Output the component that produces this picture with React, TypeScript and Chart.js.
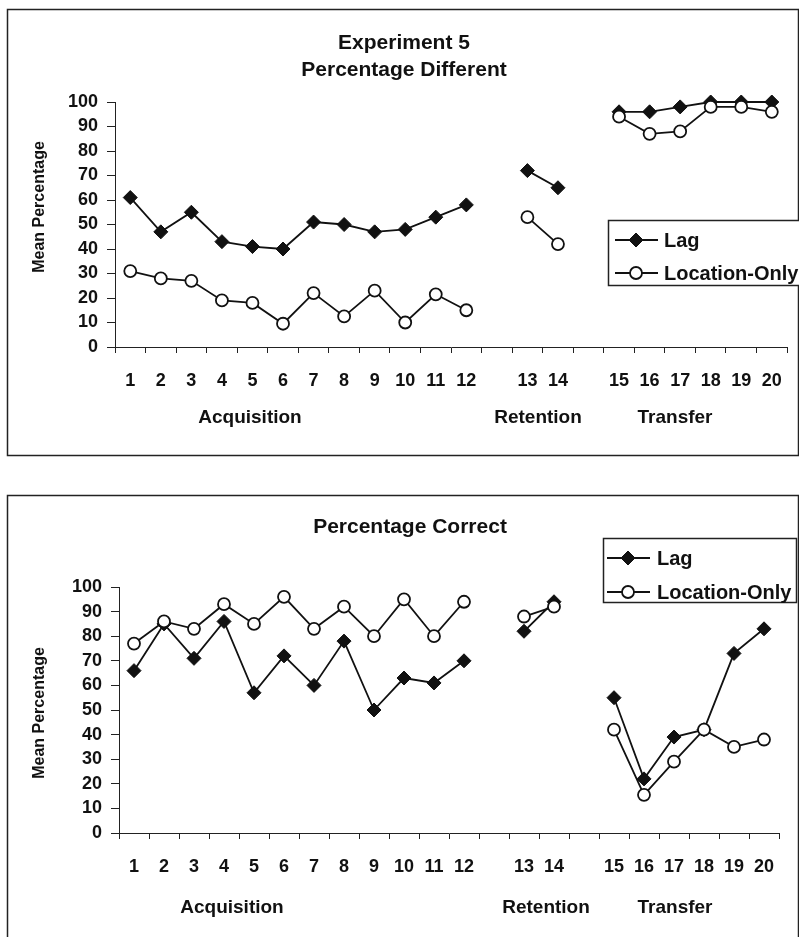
import React, { useEffect, useRef } from 'react';
import { Chart, registerables } from 'chart.js';

Chart.register(...registerables);

const FONT = "'Liberation Sans', Arial, Helvetica, sans-serif";
Chart.defaults.font.family = FONT;

// x categories (empty strings are the gaps between phases)
const categories = ['1', '2', '3', '4', '5', '6', '7', '8', '9', '10', '11', '12', '', '13', '14', '', '15', '16', '17', '18', '19', '20'];
const seriesNames = ['Lag', 'Location-Only'];
const phaseLabels = ['Acquisition', 'Retention', 'Transfer'];
const yAxisTitle = 'Mean Percentage';
const topTitle = ['Experiment 5', 'Percentage Different'];
const bottomTitle = ['Percentage Correct'];

// Percentage Different
const diffLag = [61, 47, 55, 43, 41, 40, 51, 50, 47, 48, 53, 58, null, 72, 65, null, 96, 96, 98, 100, 100, 100];
const diffLoc = [31, 28, 27, 19, 18, 9.5, 22, 12.5, 23, 10, 21.5, 15, null, 53, 42, null, 94, 87, 88, 98, 98, 96];

// Percentage Correct
const corrLag = [66, 85, 71, 86, 57, 72, 60, 78, 50, 63, 61, 70, null, 82, 94, null, 55, 22, 39, 42, 73, 83];
const corrLoc = [77, 86, 83, 93, 85, 96, 83, 92, 80, 95, 80, 94, null, 88, 92, null, 42, 15.5, 29, 42, 35, 38];

type Cfg = {
  canvasTop: number;
  height: number;
  box: { x: number; y: number; w: number; h: number };
  padTop: number;
  padBottom: number;
  padRight: number;
  yWidth: number;
  titles: { text: string; y: number }[];
  titleX: number;
  titleSize: number;
  phaseX: number[];
  phaseY: number;
  yTitleX: number;
  yTitleY: number;
  legend: { x: number; y: number; w: number; h: number; rows: number[]; l0: number; l1: number; mx: number; tx: number };
};

function makeDecor(cfg: Cfg) {
  return {
    id: 'decor',
    beforeDraw(chart: any) {
      const ctx = chart.ctx;
      ctx.save();
      ctx.fillStyle = '#fff';
      ctx.fillRect(0, 0, chart.width, chart.height);
      ctx.strokeStyle = '#222';
      ctx.lineWidth = 1.5;
      const b = cfg.box;
      ctx.strokeRect(b.x, b.y, b.w, b.h);
      ctx.restore();
    },
    afterDraw(chart: any) {
      const ctx = chart.ctx;
      ctx.save();
      ctx.fillStyle = '#111';
      ctx.textAlign = 'center';
      ctx.textBaseline = 'middle';
      ctx.font = `bold ${cfg.titleSize}px ${FONT}`;
      cfg.titles.forEach((t) => ctx.fillText(t.text, cfg.titleX, t.y));
      ctx.font = `bold 19px ${FONT}`;
      phaseLabels.forEach((p, i) => ctx.fillText(p, cfg.phaseX[i], cfg.phaseY));
      // y axis title
      ctx.save();
      ctx.translate(cfg.yTitleX, cfg.yTitleY);
      ctx.rotate(-Math.PI / 2);
      ctx.font = `bold 16px ${FONT}`;
      ctx.fillText(yAxisTitle, 0, 0);
      ctx.restore();
      // legend
      const lg = cfg.legend;
      ctx.fillStyle = '#fff';
      ctx.fillRect(lg.x, lg.y, lg.w, lg.h);
      ctx.strokeStyle = '#222';
      ctx.lineWidth = 1.5;
      ctx.strokeRect(lg.x, lg.y, lg.w, lg.h);
      chart.data.datasets.forEach((ds: any, i: number) => {
        const cy = lg.rows[i];
        ctx.strokeStyle = ds.borderColor;
        ctx.lineWidth = ds.borderWidth;
        ctx.beginPath();
        ctx.moveTo(lg.l0, cy);
        ctx.lineTo(lg.l1, cy);
        ctx.stroke();
        const r = ds.pointRadius;
        ctx.beginPath();
        if (ds.pointStyle === 'rectRot') {
          ctx.moveTo(lg.mx - r, cy);
          ctx.lineTo(lg.mx, cy - r);
          ctx.lineTo(lg.mx + r, cy);
          ctx.lineTo(lg.mx, cy + r);
          ctx.closePath();
        } else {
          ctx.arc(lg.mx, cy, r, 0, Math.PI * 2);
        }
        ctx.fillStyle = ds.pointBackgroundColor;
        ctx.fill();
        ctx.lineWidth = ds.pointBorderWidth;
        ctx.strokeStyle = ds.pointBorderColor;
        ctx.stroke();
        ctx.fillStyle = '#111';
        ctx.textAlign = 'left';
        ctx.font = `bold 20px ${FONT}`;
        ctx.fillText(ds.label, lg.tx, cy + 1);
      });
      ctx.restore();
    },
  };
}

const topCfg: Cfg = {
  canvasTop: 0,
  height: 470,
  box: { x: 7.5, y: 9.5, w: 791, h: 446 },
  padTop: 102,
  padBottom: 63,
  padRight: 2,
  yWidth: 107,
  titles: [
    { text: topTitle[0], y: 43 },
    { text: topTitle[1], y: 70 },
  ],
  titleX: 404,
  titleSize: 21,
  phaseX: [250, 538, 675],
  phaseY: 418,
  yTitleX: 40,
  yTitleY: 207,
  legend: { x: 608.5, y: 220.5, w: 200, h: 65, rows: [240, 273], l0: 615, l1: 658, mx: 636, tx: 664 },
};

const bottomCfg: Cfg = {
  canvasTop: 470,
  height: 467,
  box: { x: 7.5, y: 25.5, w: 791, h: 600 },
  padTop: 117,
  padBottom: 44,
  padRight: 20,
  yWidth: 111,
  titles: [{ text: bottomTitle[0], y: 57 }],
  titleX: 410,
  titleSize: 21,
  phaseX: [232, 546, 675],
  phaseY: 438,
  yTitleX: 40,
  yTitleY: 243,
  legend: { x: 603.5, y: 68.5, w: 193, h: 64, rows: [88, 122], l0: 607, l1: 650, mx: 628, tx: 657 },
};

function Panel({ cfg, lag, loc }: { cfg: Cfg; lag: (number | null)[]; loc: (number | null)[] }) {
  const ref = useRef<HTMLCanvasElement | null>(null);
  useEffect(() => {
    if (!ref.current) return;
    const chart = new Chart(ref.current, {
      type: 'line',
      data: {
        labels: categories,
        datasets: [
          {
            label: seriesNames[0],
            data: lag,
            borderColor: '#111',
            backgroundColor: '#111',
            borderWidth: 1.8,
            pointStyle: 'rectRot',
            pointRadius: 7,
            pointBackgroundColor: '#111',
            pointBorderColor: '#111',
            pointBorderWidth: 1,
            spanGaps: false,
            tension: 0,
            clip: false,
            order: 1,
          } as any,
          {
            label: seriesNames[1],
            data: loc,
            borderColor: '#111',
            backgroundColor: '#fff',
            borderWidth: 1.8,
            pointStyle: 'circle',
            pointRadius: 6,
            pointBackgroundColor: '#fff',
            pointBorderColor: '#111',
            pointBorderWidth: 1.8,
            spanGaps: false,
            tension: 0,
            clip: false,
            order: 0,
          } as any,
        ],
      },
      options: {
        responsive: false,
        animation: false,
        devicePixelRatio: 1,
        events: [],
        layout: { padding: { left: 8, right: cfg.padRight, top: cfg.padTop, bottom: cfg.padBottom } },
        plugins: {
          legend: { display: false },
          tooltip: { enabled: false },
          title: { display: false },
        },
        scales: {
          x: {
            type: 'category',
            offset: true,
            afterFit: (s: any) => {
              s.height = 60;
            },
            grid: { offset: true, drawOnChartArea: false, drawTicks: true, tickLength: 6, color: '#222', lineWidth: 1 },
            border: { display: true, color: '#222', width: 1 },
            ticks: { autoSkip: false, maxRotation: 0, minRotation: 0, padding: 17, color: '#111', font: { size: 18, weight: 'bold' } },
          },
          y: {
            min: 0,
            max: 100,
            afterFit: (s: any) => {
              s.width = cfg.yWidth;
            },
            grid: { drawOnChartArea: false, drawTicks: true, tickLength: 8, color: '#222', lineWidth: 1 },
            border: { display: true, color: '#222', width: 1 },
            ticks: { stepSize: 10, autoSkip: false, padding: 9, color: '#111', font: { size: 18, weight: 'bold' } },
          },
        },
      } as any,
      plugins: [makeDecor(cfg) as any],
    });
    return () => chart.destroy();
  }, []);
  return (
    <canvas
      ref={ref}
      width={799}
      height={cfg.height}
      style={{ position: 'absolute', left: 0, top: cfg.canvasTop, width: 799, height: cfg.height, display: 'block' }}
    />
  );
}

export default function App() {
  return (
    <div style={{ position: 'absolute', left: 0, top: 0, width: 799, height: 937, background: '#fff', overflow: 'hidden' }}>
      <Panel cfg={topCfg} lag={diffLag} loc={diffLoc} />
      <Panel cfg={bottomCfg} lag={corrLag} loc={corrLoc} />
    </div>
  );
}
